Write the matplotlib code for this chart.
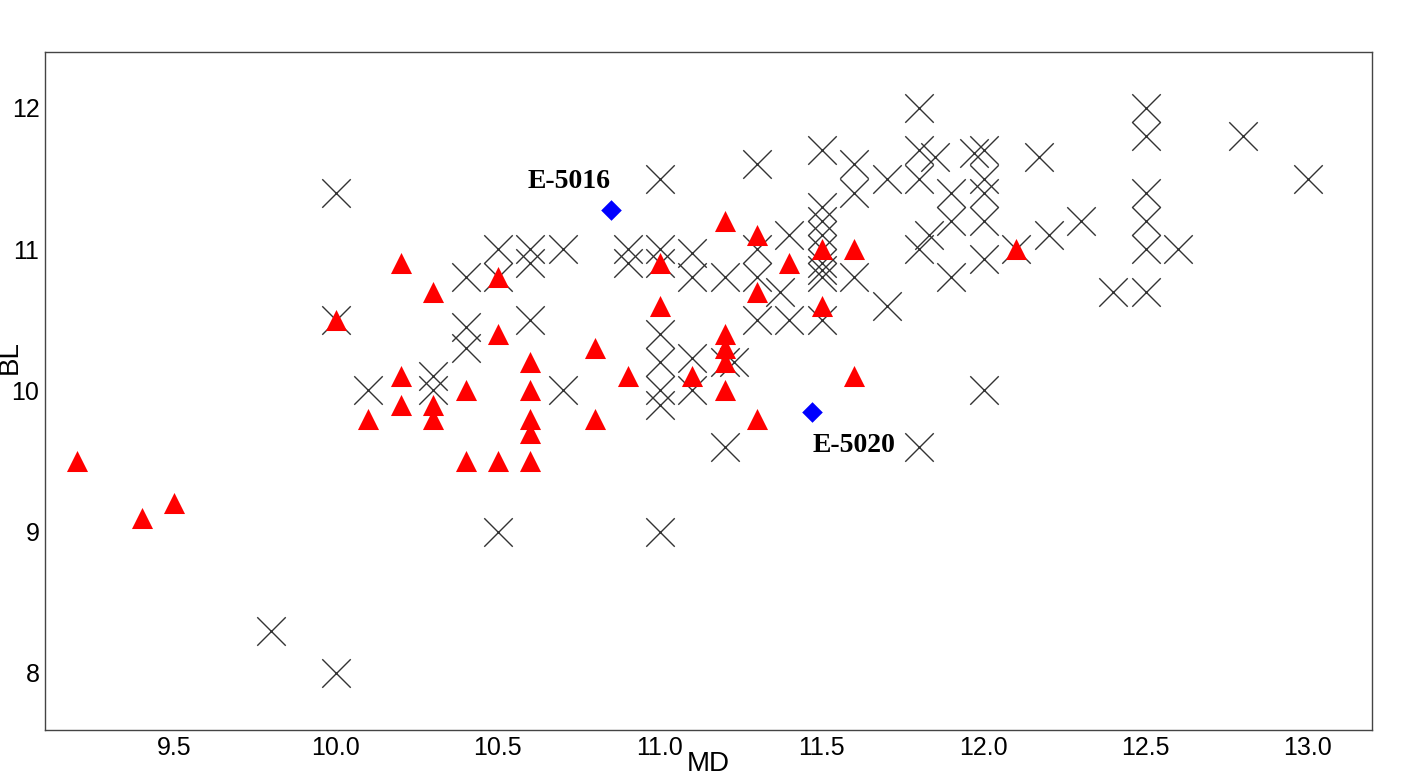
import matplotlib
matplotlib.use("Agg")
import matplotlib.pyplot as plt

cross_x = [10.0,10.0,10.0,9.8,10.1,10.3,10.3,10.4,10.4,10.4,10.5,10.5,10.5,10.6,10.6,10.6,10.7,10.7,10.9,10.9,11.0,11.0,11.0,11.0,11.0,11.0,11.0,11.0,11.1,11.1,11.1,11.1,11.2,11.2,11.2,11.23,11.3,11.3,11.3,11.3,11.4,11.4,11.37,11.5,11.5,11.5,11.5,11.5,11.5,11.5,11.5,11.5,11.6,11.6,11.6,11.7,11.7,11.8,11.8,11.8,11.8,11.8,11.83,11.85,11.9,11.9,11.9,11.97,12.0,12.0,12.0,12.0,12.0,12.0,12.1,12.17,12.2,12.3,12.4,12.5,12.5,12.5,12.5,12.5,12.5,12.6,12.8,13.0]
cross_y = [11.4,10.5,8.0,8.3,10.0,10.1,10.0,10.8,10.45,10.3,11.0,10.8,9.0,11.0,10.9,10.5,11.0,10.0,11.0,10.9,11.5,11.0,10.9,10.4,10.2,10.0,9.9,9.0,10.97,10.8,10.23,10.0,10.8,10.2,9.6,10.2,11.6,11.0,10.8,10.5,11.1,10.5,10.7,11.7,11.3,11.2,11.1,11.0,10.9,10.85,10.8,10.5,11.6,11.4,10.8,11.5,10.6,12.0,11.7,11.5,11.0,9.6,11.1,11.65,11.4,11.2,10.8,11.68,11.7,11.5,11.4,11.2,10.93,10.0,11.0,11.65,11.1,11.2,10.7,12.0,11.8,11.4,11.2,11.0,10.7,11.0,11.8,11.5]

tri_x = [9.2,9.4,9.5,10.0,10.1,10.2,10.2,10.2,10.3,10.3,10.3,10.4,10.4,10.5,10.5,10.5,10.6,10.6,10.6,10.6,10.6,10.8,10.8,10.9,11.0,11.0,11.1,11.2,11.2,11.2,11.2,11.2,11.3,11.3,11.3,11.4,11.5,11.5,11.6,11.6,12.1]
tri_y = [9.5,9.1,9.2,10.5,9.8,10.9,10.1,9.9,10.7,9.9,9.8,10.0,9.5,10.8,10.4,9.5,10.2,10.0,9.8,9.7,9.5,10.3,9.8,10.1,10.9,10.6,10.1,11.2,10.4,10.3,10.2,10.0,11.1,10.7,9.8,10.9,11.0,10.6,11.0,10.1,11.0]

dia_x = [10.85, 11.47]
dia_y = [11.28, 9.85]
dia_labels = ["E-5016", "E-5020"]

fig = plt.figure(figsize=(14.17, 7.83), dpi=100)
ax = fig.add_axes([45/1417, 1-730/783, (1372-45)/1417, (730-52)/783])
ax.scatter(cross_x, cross_y, marker='x', s=420, c='#333333', linewidths=1.0, zorder=2)
ax.scatter(tri_x, tri_y, marker='^', s=230, c='red', linewidths=0, zorder=3)
ax.scatter(dia_x, dia_y, marker='D', s=110, c='blue', linewidths=0, zorder=4)
ax.text(dia_x[0]-0.13, dia_y[0]+0.2, dia_labels[0], ha='center', va='center',
        family='Liberation Serif', weight='bold', fontsize=20)
ax.text(dia_x[1]+0.13, dia_y[1]-0.24, dia_labels[1], ha='center', va='center',
        family='Liberation Serif', weight='bold', fontsize=20)
ax.set_xlim(9.102, 13.198)
ax.set_ylim(7.596, 12.396)
ax.set_xticks([9.5,10.0,10.5,11.0,11.5,12.0,12.5,13.0])
ax.set_xticklabels(["9.5","10.0","10.5","11.0","11.5","12.0","12.5","13.0"])
ax.set_yticks([8,9,10,11,12])
ax.tick_params(length=0, labelsize=18, pad=4)
for lab in ax.get_xticklabels()+ax.get_yticklabels():
    lab.set_family('Liberation Sans')
for s in ax.spines.values():
    s.set_color('#444444'); s.set_linewidth(1)
ax.set_xlabel("MD", family='Liberation Sans', fontsize=20, labelpad=-6)
ax.set_ylabel("BL", family='Liberation Sans', fontsize=20)
ax.yaxis.set_label_coords(-22/1327, 0.55)
fig.savefig("out.png", dpi=100)
